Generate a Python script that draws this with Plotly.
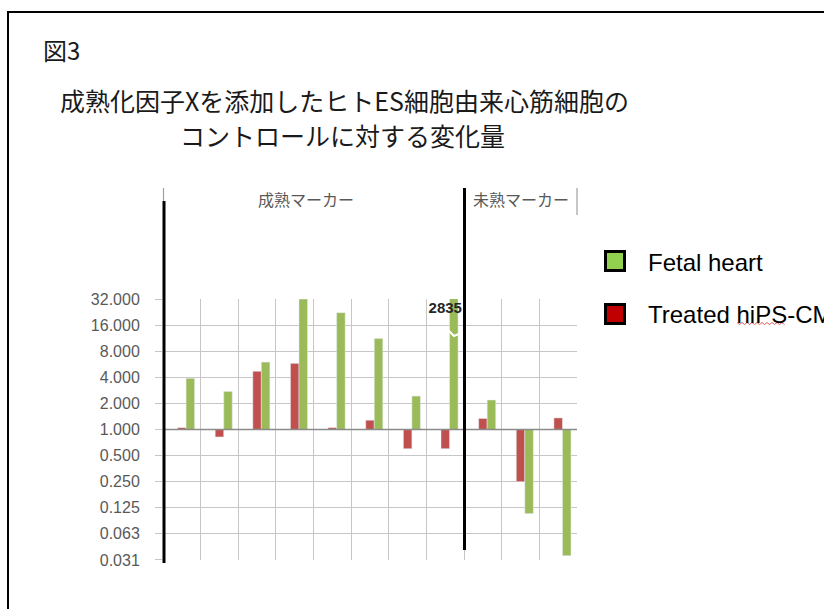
import math
import plotly.graph_objects as go

# ---- data ----
categories = ["成熟1", "成熟2", "成熟3", "成熟4", "成熟5", "成熟6", "成熟7", "成熟8",
              "未熟1", "未熟2", "未熟3"]
control = [1.0] * 11
treated = [1.05, 0.82, 4.7, 5.8, 1.05, 1.28, 0.60, 0.60, 1.34, 0.25, 1.36]
fetal = [3.9, 2.75, 6.0, 32.0, 22.3, 11.2, 2.43, 2835, 2.19, 0.107, 0.035]
tick_values = [0.03125, 0.0625, 0.125, 0.25, 0.5, 1, 2, 4, 8, 16, 32]
tick_labels = ["0.031", "0.063", "0.125", "0.250", "0.500", "1.000",
               "2.000", "4.000", "8.000", "16.000", "32.000"]
series_names = ["Control", "Treated hiPS-CM", "Fetal heart"]
group_labels = ["成熟マーカー", "未熟マーカー"]

W, H = 824, 609
L, R, T, B = 163, 577, 299, 560


def xp(x):
    return (x - L) / (R - L)


def yp(y):
    return (B - y) / (B - T)


fig = go.Figure()
fig.add_trace(go.Bar(x=categories, y=[v - 1 for v in control], base=1,
                     name=series_names[0], marker_color="rgba(0,0,0,0)",
                     showlegend=False))
fig.add_trace(go.Bar(x=categories, y=[v - 1 for v in treated], base=1,
                     name=series_names[1], marker_color="#C0504D",
                     showlegend=False))
fig.add_trace(go.Bar(x=categories, y=[v - 1 for v in fetal], base=1,
                     name=series_names[2], marker_color="#9BBB59",
                     showlegend=False))
# value label of the truncated bar
fig.add_trace(go.Scatter(x=[categories[7]], y=[24.3], mode="text",
                         text=[f"{fetal[7]}"], cliponaxis=False,
                         textfont=dict(family="Liberation Sans", size=15,
                                       color="#262626", weight="bold"),
                         showlegend=False, hoverinfo="skip"))

shapes = []
# outer frame
shapes.append(dict(type="rect", xref="paper", yref="paper",
                   x0=xp(8), x1=xp(840), y0=yp(12), y1=yp(640),
                   line=dict(color="black", width=2)))
# baseline at 1.000
shapes.append(dict(type="line", xref="paper", yref="y", x0=0, x1=1, y0=1, y1=1,
                   line=dict(color="#8a8a8a", width=1.3), layer="above"))
# thin gray separators above
shapes.append(dict(type="line", xref="paper", yref="paper", x0=xp(163.5), x1=xp(163.5),
                   y0=yp(188), y1=yp(201), line=dict(color="#a0a0a0", width=1.2)))
shapes.append(dict(type="line", xref="paper", yref="paper", x0=xp(577), x1=xp(577),
                   y0=yp(188), y1=yp(215), line=dict(color="#a0a0a0", width=1.2)))
# thick black lines
shapes.append(dict(type="line", xref="paper", yref="paper", x0=xp(164), x1=xp(164),
                   y0=yp(201), y1=yp(563), line=dict(color="black", width=3), layer="above"))
shapes.append(dict(type="line", xref="paper", yref="paper", x0=xp(464.5), x1=xp(464.5),
                   y0=yp(188), y1=yp(550), line=dict(color="black", width=3), layer="above"))
# break mark on truncated bar
shapes.append(dict(type="path", xref="paper", yref="paper",
                   path=f"M {xp(448)},{yp(330)} L {xp(454)},{yp(336)} L {xp(460)},{yp(333.5)}",
                   line=dict(color="white", width=2.2), layer="above"))
# legend squares
shapes.append(dict(type="rect", xref="paper", yref="paper",
                   x0=xp(605.5), x1=xp(624.5), y0=yp(251.5), y1=yp(270.5),
                   fillcolor="#92D050", line=dict(color="black", width=3)))
shapes.append(dict(type="rect", xref="paper", yref="paper",
                   x0=xp(605.5), x1=xp(624.5), y0=yp(304.5), y1=yp(323.5),
                   fillcolor="#C00000", line=dict(color="black", width=3)))
# spell-check wavy underline
zz = []
xx = 737
k = 0
while xx <= 785:
    zz.append(f"{'M' if k == 0 else 'L'} {xp(xx)},{yp(323 + (1.5 if k % 2 else -0.5))}")
    xx += 2.5
    k += 1
shapes.append(dict(type="path", xref="paper", yref="paper", path=" ".join(zz),
                   line=dict(color="#e06060", width=1)))

annotations = [
    dict(text="図3", x=xp(41), y=yp(50), xanchor="left", yanchor="middle",
         font=dict(family="Noto Sans CJK JP", size=24, color="#1a1a1a")),
    dict(text="成熟化因子Xを添加したヒトES細胞由来心筋細胞の", x=xp(344), y=yp(100),
         xanchor="center", yanchor="middle",
         font=dict(family="Noto Sans CJK JP", size=25, color="#1a1a1a")),
    dict(text="コントロールに対する変化量", x=xp(342), y=yp(134.5),
         xanchor="center", yanchor="middle",
         font=dict(family="Noto Sans CJK JP", size=25, color="#1a1a1a")),
    dict(text=group_labels[0], x=xp(306), y=yp(199), xanchor="center", yanchor="middle",
         font=dict(family="Noto Sans CJK JP", size=16, color="#595959")),
    dict(text=group_labels[1], x=xp(521), y=yp(199), xanchor="center", yanchor="middle",
         font=dict(family="Noto Sans CJK JP", size=16, color="#595959")),
    dict(text=series_names[2], x=xp(646), y=yp(262), xanchor="left", yanchor="middle",
         font=dict(family="Liberation Sans", size=24, color="black")),
    dict(text=series_names[1], x=xp(646), y=yp(314), xanchor="left", yanchor="middle",
         font=dict(family="Liberation Sans", size=24, color="black")),
]
for a in annotations:
    a.update(xref="paper", yref="paper", showarrow=False)

fig.update_layout(
    width=W, height=H,
    margin=dict(l=L, r=W - R, t=T, b=H - B, pad=0),
    paper_bgcolor="white", plot_bgcolor="white",
    barmode="group", bargap=0.32, bargroupgap=0,
    showlegend=False,
    shapes=shapes, annotations=annotations,
    xaxis=dict(type="category", tickson="boundaries", showgrid=True,
               gridcolor="#c6c6c6", gridwidth=1, showticklabels=False,
               ticks="", showline=False, zeroline=False,
               range=[-0.5, 10.5]),
    yaxis=dict(type="log", range=[math.log10(tick_values[0]) - 0.001,
                                  math.log10(tick_values[-1]) + 0.001],
               tickvals=tick_values, ticktext=tick_labels,
               showgrid=True, gridcolor="#c6c6c6", gridwidth=1,
               ticks="outside", ticklen=7, tickcolor="#c6c6c6",
               ticklabelstandoff=12,
               tickfont=dict(family="Liberation Sans", size=16, color="#595959"),
               showline=False, zeroline=False),
)

fig.write_html("out.html")
